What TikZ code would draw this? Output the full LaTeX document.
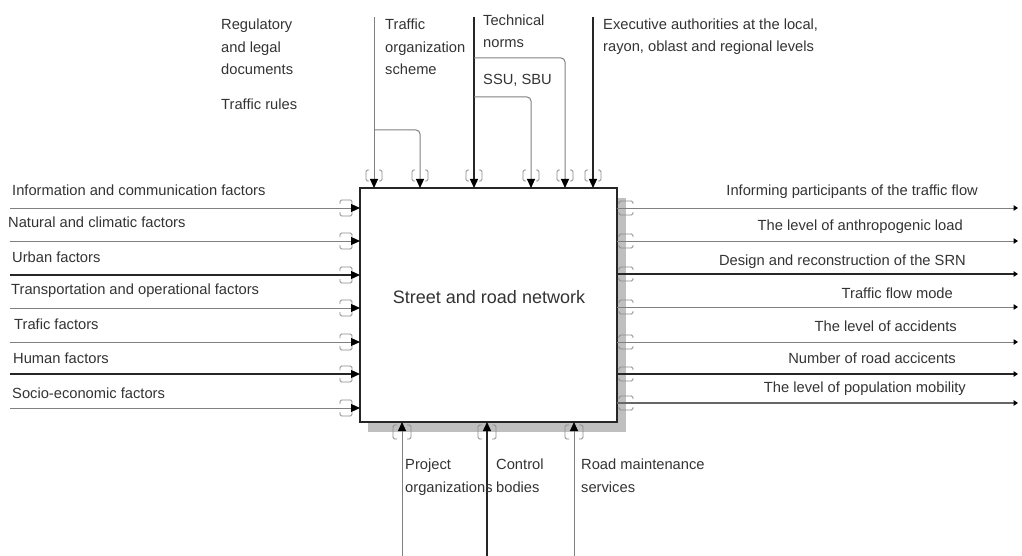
\documentclass[tikz,border=0pt]{standalone}
\usepackage{fontspec}
\setmainfont{Liberation Sans}
\usetikzlibrary{arrows.meta}
\begin{document}
\begin{tikzpicture}[x=1pt,y=-1pt,
  lbl/.style={font=\fontsize{14.7}{22.5}\selectfont, text=black!80, inner sep=0pt, align=left},
  lbll/.style={lbl, anchor=base west},
  lblr/.style={lbl, anchor=base east},
  gl/.style={draw=black!50, line width=1pt},
  dl/.style={draw=black!85, line width=1.3pt},
  tip/.style={-{Triangle[length=9pt,width=8pt,color=black]}},
  otip/.style={-{Triangle[length=4.5pt,width=5.5pt,color=black]}},
  brk/.style={draw=black!45, line width=0.9pt, rounded corners=1.5pt},
]
\useasboundingbox (0,0) rectangle (1022,556);
% shadow and main box
\fill[black!25] (368,198) rectangle (626,432);
\node[draw=black!85, line width=1.4pt, fill=white, minimum width=257pt, minimum height=234pt, inner sep=0pt, outer sep=0pt] (box) at (488.5,305) {};
\node[lbl, font=\fontsize{18}{20}\selectfont] (title) at (489,297) {Street and road network};

% ---------- inputs (left) ----------
\foreach \y/\c/\w [count=\i] in {208/black!50/1,241/black!50/1,275/black!85/1.3,308/black!50/1,342/black!50/1,374/black!85/1.3,408/black!50/1} {
  \coordinate (in\i) at (10,\y);
  \draw[draw=\c, line width=\w pt, tip] (in\i) -- (box.west |- in\i);
  \draw[brk] (340,{\y-4}) -- (340,{\y-8}) -- (352,{\y-8}) -- (352,{\y-4});
  \draw[brk] (340,{\y+4}) -- (340,{\y+8}) -- (352,{\y+8}) -- (352,{\y+4});
}
\node[lbll] (l1) at (12,196) {Information and communication factors};
\node[lbll] (l2) at (8,227) {Natural and climatic factors};
\node[lbll] (l3) at (12,262) {Urban factors};
\node[lbll] (l4) at (11,294) {Transportation and operational factors};
\node[lbll] (l5) at (14,329) {Trafic factors};
\node[lbll] (l6) at (13,363) {Human factors};
\node[lbll] (l7) at (12,398) {Socio-economic factors};

% ---------- outputs (right) ----------
\foreach \y/\c/\w [count=\i] in {208/black!50/1,241/black!50/1,274/black!85/1.3,307/black!50/1,342/black!50/1,374/black!85/1.3,403/black!60/1.1} {
  \coordinate (out\i) at (1018,\y);
  \draw[draw=\c, line width=\w pt, otip] (box.east |- out\i) -- (out\i);
  \draw[brk] (619,{\y-4}) -- (619,{\y-7}) -- (633,{\y-7}) -- (633,{\y-4});
  \draw[brk] (619,{\y+4}) -- (619,{\y+7}) -- (633,{\y+7}) -- (633,{\y+4});
}
\node[lblr] (r1) at (978,196) {Informing participants of the traffic flow};
\node[lblr] (r2) at (963,230) {The level of anthropogenic load};
\node[lblr] (r3) at (966,265) {Design and reconstruction of the SRN};
\node[lblr] (r4) at (953,298) {Traffic flow mode};
\node[lblr] (r5) at (957,331) {The level of accidents};
\node[lblr] (r6) at (956,363) {Number of road accicents};
\node[lblr] (r7) at (966,392) {The level of population mobility};

% ---------- controls (top) ----------
\coordinate (a1) at (374,17);
\coordinate (a2) at (420,17);
\coordinate (a3) at (474,17);
\coordinate (a4) at (531,17);
\coordinate (a5) at (565,17);
\coordinate (a6) at (593,17);
\coordinate (j2) at (374,130);
\coordinate (j4) at (474,97);
\coordinate (j5) at (474,58);
\draw[gl,tip] (a1) -- (a1 |- box.north);
\draw[gl,tip,rounded corners=4pt] (j2) -| (a2 |- box.north);
\draw[dl,tip] (a3) -- (a3 |- box.north);
\draw[gl,tip,rounded corners=4pt] (j4) -| (a4 |- box.north);
\draw[gl,tip,rounded corners=4pt] (j5) -| (a5 |- box.north);
\draw[dl,tip] (a6) -- (a6 |- box.north);
\foreach \x in {374,420,474,531,565,593} {
  \draw[brk] ({\x-5},170) -- ({\x-8},170) -- ({\x-8},181) -- ({\x-5},181);
  \draw[brk] ({\x+5},170) -- ({\x+8},170) -- ({\x+8},181) -- ({\x+5},181);
}
\node[lbll] (c1) at (221,75) {Regulatory\\and legal\\documents};
\node[lbll] (c2) at (221,110) {Traffic rules};
\node[lbll] (c3) at (385,75) {Traffic\\organization\\scheme};
\node[lbll] (c4) at (483,48) {Technical\\norms};
\node[lbll] (c5) at (483,85) {SSU, SBU};
\node[lbll] (c6) at (603,52) {Executive authorities at the local,\\rayon, oblast and regional levels};

% ---------- mechanisms (bottom) ----------
\coordinate (b1) at (402,556);
\coordinate (b2) at (487,556);
\coordinate (b3) at (574,556);
\draw[gl,tip] (b1) -- (b1 |- box.south);
\draw[dl,tip] (b2) -- (b2 |- box.south);
\draw[gl,tip] (b3) -- (b3 |- box.south);
\foreach \x in {402,487,574} {
  \draw[brk] ({\x-5},425) -- ({\x-9},425) -- ({\x-9},439) -- ({\x-5},439);
  \draw[brk] ({\x+5},425) -- ({\x+9},425) -- ({\x+9},439) -- ({\x+5},439);
}
\node[lbll] (m1) at (405,492) {Project\\organizations};
\node[lbll] (m2) at (496,492) {Control\\bodies};
\node[lbll] (m3) at (581,492) {Road maintenance\\services};
\end{tikzpicture}
\end{document}
